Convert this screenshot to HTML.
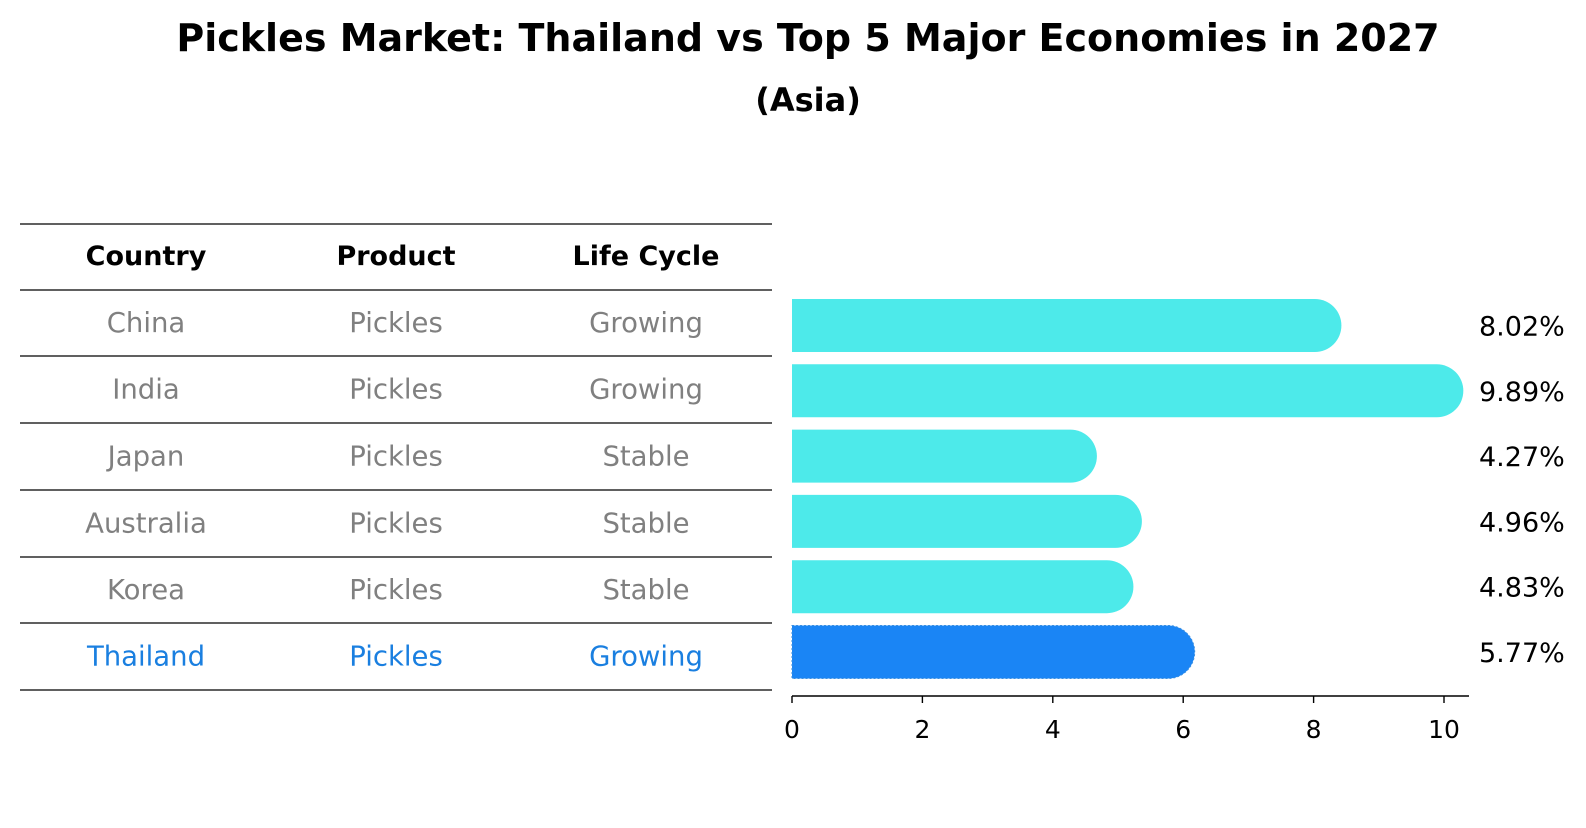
<!DOCTYPE html>
<html><head><meta charset="utf-8"><style>
body{margin:0;background:#fff;}
svg text{font-family:"DejaVu Sans","Liberation Sans",sans-serif;}
</style></head><body>
<svg width="1586" height="823" xmlns="http://www.w3.org/2000/svg">
<text x="808" y="51" text-anchor="middle" font-size="38" font-weight="bold">Pickles Market: Thailand vs Top 5 Major Economies in 2027</text>
<text x="808" y="111" text-anchor="middle" font-size="32" font-weight="bold">(Asia)</text>
<g id="table"></g>
<g id="bars"></g>
</svg>
<script>
const countries=["China","India","Japan","Australia","Korea","Thailand"];
const products=["Pickles","Pickles","Pickles","Pickles","Pickles","Pickles"];
const lifeCycles=["Growing","Growing","Stable","Stable","Stable","Growing"];
const values=[8.02,9.89,4.27,4.96,4.83,5.77];
const valueLabels=["8.02%","9.89%","4.27%","4.96%","4.83%","5.77%"];
const xTicks=[0,2,4,6,8,10];
const NS="http://www.w3.org/2000/svg";
function mk(t,a,p){const e=document.createElementNS(NS,t);for(const k in a)e.setAttribute(k,a[k]);p.appendChild(e);return e;}
const tbl=document.getElementById('table');
const lineYs=[224,290,356,423,490,557,623,690];
const colX=[146,396,646];
lineYs.forEach((y,i)=>{const l=mk('line',{x1:20,x2:772,y1:y,y2:y,stroke:'#000','stroke-width':1.2},tbl);

});
["Country","Product","Life Cycle"].forEach((h,j)=>{const t=mk('text',{x:colX[j],y:265,'text-anchor':'middle','font-size':27,'font-weight':'bold'},tbl);t.textContent=h;

});
countries.forEach((c,i)=>{const y=(lineYs[i+1]+lineYs[i+2])/2+9;const col=c==="Thailand"?"#1a7fe0":"#808080";
[c,products[i],lifeCycles[i]].forEach((v,j)=>{const t=mk('text',{x:colX[j],y:y,'text-anchor':'middle','font-size':27.5,fill:col},tbl);t.textContent=v;

});});
const g=document.getElementById('bars');
const x0=792,unit=65.2;
const xs=v=>x0+v*unit;
const yc=i=>325.5+i*65.3;
const bh=53,r=26.5;
values.forEach((v,i)=>{const y=yc(i)-bh/2,xe=xs(v);
const col=i===5?"#1a85f5":"#4deaea";
const p=mk('path',{d:`M${x0},${y} H${xe} A${r},${r} 0 0 1 ${xe},${y+bh} H${x0} Z`,fill:col},g);
if(i===5){p.setAttribute('stroke','#3a8fe0');p.setAttribute('stroke-dasharray','2 2');p.setAttribute('stroke-width','1');}


const t=mk('text',{x:1479,y:yc(i)+10,'font-size':27},g);t.textContent=valueLabels[i];

});
const ax=mk('line',{x1:x0,x2:1469,y1:696,y2:696,stroke:'#000','stroke-width':1.6},g);


xTicks.forEach(v=>{const tk=mk('line',{x1:xs(v),x2:xs(v),y1:696,y2:703,stroke:'#000','stroke-width':1.4},g);


const t=mk('text',{x:xs(v),y:738,'text-anchor':'middle','font-size':25},g);t.textContent=v;

});
</script>
</body></html>
